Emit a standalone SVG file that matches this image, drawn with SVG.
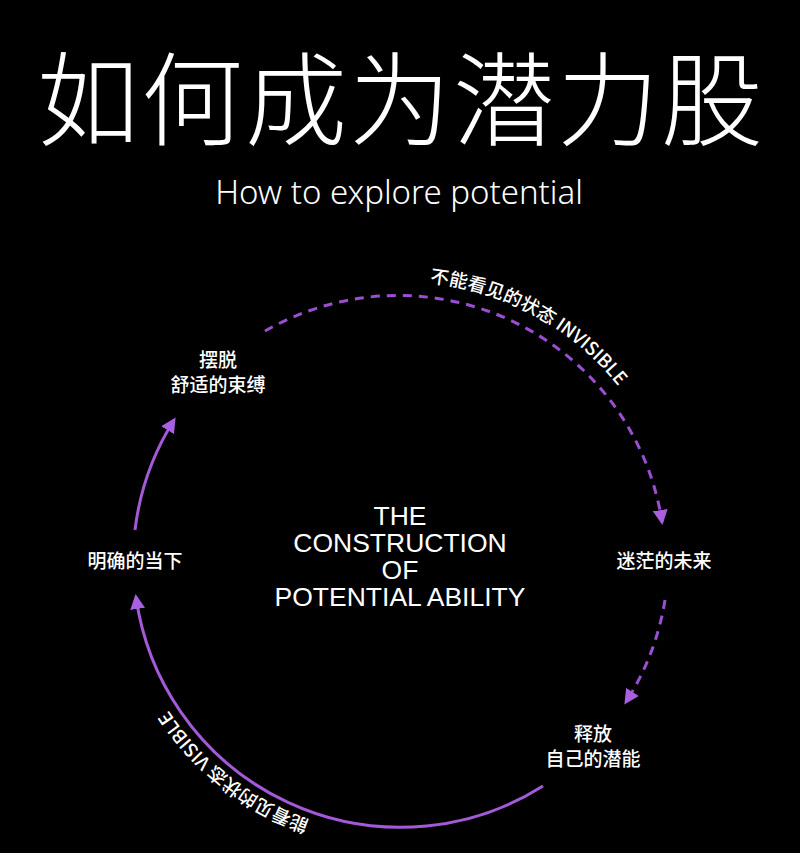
<svg xmlns="http://www.w3.org/2000/svg" width="800" height="853" viewBox="0 0 800 853">
<style>
.t{fill:#fff;font-family:"Noto Sans CJK SC","Noto Sans",sans-serif;font-size:19px;text-anchor:middle;font-weight:500}
.c{fill:#fff;font-family:"Liberation Sans",Arial,sans-serif;font-size:26.5px;text-anchor:middle}
.d{fill:none;stroke:#9a4fd2;stroke-width:3;stroke-dasharray:9 7}
.s{fill:none;stroke:#a35ad8;stroke-width:3}
.a{fill:#fff;font-family:"Noto Sans CJK SC","Liberation Sans",sans-serif;font-size:18.5px;font-weight:500}
</style>
<defs>
<marker id="m" viewBox="0 0 10 10" refX="8" refY="5" markerWidth="5" markerHeight="5" orient="auto" markerUnits="strokeWidth"><path d="M0,0L10,5L0,10z" fill="#a860e0"/></marker>
<path id="tp" d="M400,281 A279,279 0 0 1 679,560"/>
<path id="bp" d="M400,836 A276,276 0 0 1 124,560"/>
</defs>
<rect width="800" height="853" fill="#000"/>
<g id="title">
<text x="400" y="138" fill="#fff" font-family="Noto Sans CJK SC,sans-serif" font-weight="200" font-size="102" text-anchor="middle" textLength="726">如何成为潜力股</text>
<text x="399" y="204" fill="#fff" font-family="Noto Sans,sans-serif" font-weight="300" font-size="33" text-anchor="middle">How to explore potential</text>
</g>
<g id="connectors">
<path class="d" d="M265,331 A267,267 0 0 1 662,522" marker-end="url(#m)"/>
<path class="d" d="M665,600 A267,267 0 0 1 626,702" marker-end="url(#m)"/>
<path class="s" d="M543,786 A267,267 0 0 1 136,597" marker-end="url(#m)"/>
<path class="s" d="M135,530 A267,267 0 0 1 174,420" marker-end="url(#m)"/>
<text class="a"><textPath href="#tp" startOffset="30">不能看见的状态 INVISIBLE</textPath></text>
<text class="a"><textPath href="#bp" startOffset="92">能看见的状态 VISIBLE</textPath></text>
</g>
<g id="center">
<text class="c" x="400" y="525">THE</text>
<text class="c" x="400" y="552">CONSTRUCTION</text>
<text class="c" x="400" y="579">OF</text>
<text class="c" x="400" y="606">POTENTIAL ABILITY</text>
</g>
<g id="n1"><text class="t" x="218" y="367">摆脱</text><text class="t" x="218" y="392">舒适的束缚</text></g>
<g id="n2"><text class="t" x="135" y="568">明确的当下</text></g>
<g id="n3"><text class="t" x="664" y="568">迷茫的未来</text></g>
<g id="n4"><text class="t" x="593" y="741">释放</text><text class="t" x="593" y="766">自己的潜能</text></g>
</svg>
